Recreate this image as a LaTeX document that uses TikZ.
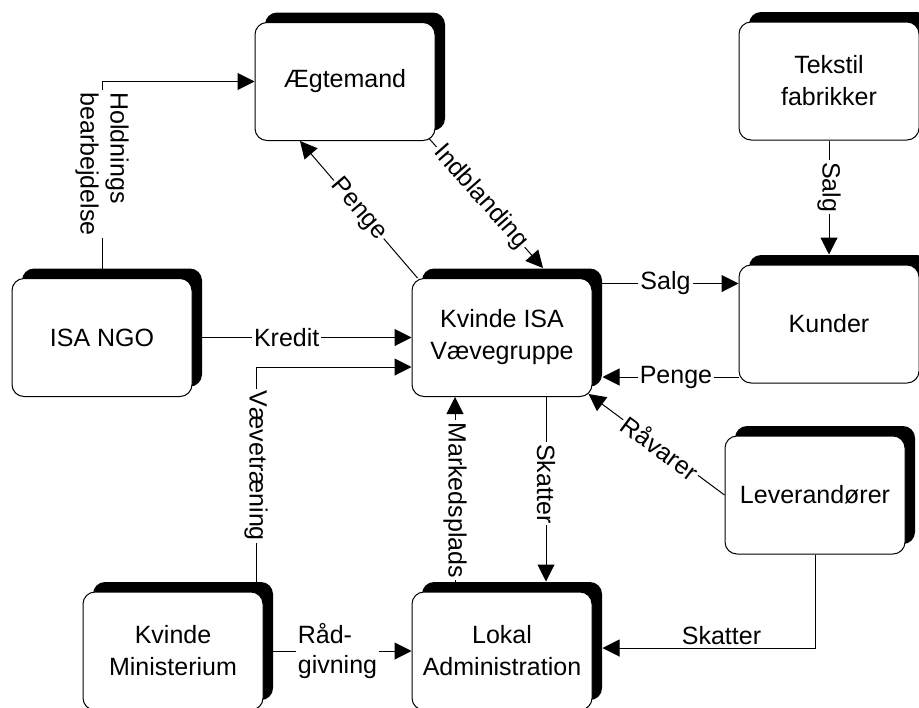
\documentclass[tikz,border=0pt]{standalone}
\usepackage{fontspec}
\setmainfont{Liberation Sans}
\usetikzlibrary{arrows.meta, positioning, shadows}

\begin{document}
\begin{tikzpicture}[
      x=0.5pt, y=-0.5pt,
      box/.style={rectangle, draw=black, line width=0.5pt, rounded corners=6pt,
                  fill=white, minimum width=90pt, minimum height=59pt,
                  align=center, inner sep=2pt,
                  font=\fontsize{12.5pt}{16pt}\selectfont,
                  general shadow={fill=black, shadow xshift=5pt, shadow yshift=5pt}},
      arr/.style={-{Triangle[length=8.5pt, width=8.5pt]}, line width=0.5pt},
      lbl/.style={fill=white, inner sep=1pt, font=\fontsize{12.5pt}{15pt}\selectfont},
      vlbl/.style={lbl, rotate=-90}
    ]
    \useasboundingbox (0,0) rectangle (919,707);

    \node[box] at (502,337.5) (kvinde) {Kvinde ISA\\Vævegruppe};
    \node[box, left=109.5pt of kvinde]                  (ngo)     {ISA NGO};
    \node[box, above=68.5pt of kvinde, xshift=-78.5pt]  (aegte)   {Ægtemand};
    \node[box, right=73pt of kvinde, yshift=6.75pt]     (kunder)  {Kunder};
    \node[box, above=62pt of kunder]                    (tekstil) {Tekstil\\fabrikker};
    \node[box, below=26pt of kunder, xshift=-7pt]       (lever)   {Leverandører};
    \node[box, below=97.25pt of kvinde]                 (lokal)   {Lokal\\Administration};
    \node[box, left=74pt of lokal]                      (minist)  {Kvinde\\Ministerium};

    \draw[arr] (ngo.north) |- node[vlbl, pos=0.29, align=left] {Holdnings\\bearbejdelse} (aegte.west);
    \draw[arr] ([xshift=3pt]kvinde.north west) -- node[lbl, sloped] {Penge} ([xshift=-22.5pt]aegte.south);
    \draw[arr] ([xshift=-3pt,yshift=1pt]aegte.south east) -- node[lbl, sloped, pos=0.45] {Indblanding} ([xshift=20.5pt,yshift=5pt]kvinde.north);
    \draw[arr] (ngo.east) -- node[lbl, pos=0.43] {Kredit} (kvinde.west);
    \draw[arr] ([xshift=41.5pt]minist.north) |- node[vlbl, pos=0.28] {Vævetræning} ([yshift=-14.75pt]kvinde.west);
    \draw[arr] ([xshift=-23.5pt]lokal.north) -- node[vlbl, pos=0.47] {Markedsplads} ([xshift=-23.5pt]kvinde.south);
    \draw[arr] ([xshift=22pt]kvinde.south) -- node[vlbl, pos=0.47] {Skatter} ([xshift=22pt,yshift=5pt]lokal.north);
    \draw[arr] ([yshift=27pt]kvinde.east) -- node[lbl] {Salg} ([yshift=20.25pt]kunder.west);
    \draw[arr] ([yshift=-26.5pt]kunder.west) -- node[lbl, pos=0.46] {Penge} ([xshift=5pt,yshift=-19.75pt]kvinde.east);
    \draw[arr] (tekstil.south) -- node[vlbl, pos=0.41] {Salg} ([yshift=5pt]kunder.north);
    \draw[arr] (lever.west) -- node[lbl, sloped, pos=0.47] {Råvarer} ([xshift=-2pt,yshift=1.5pt]kvinde.south east);
    \draw[arr] (lever.south) |- node[pos=0.72, above, inner sep=1.5pt, font=\fontsize{12.5pt}{15pt}\selectfont] {Skatter} ([xshift=5pt,yshift=1.5pt]lokal.east);
    \draw[arr] (minist.east) -- node[lbl, align=left] {Råd-\\givning} (lokal.west);
  \end{tikzpicture}
\end{document}
